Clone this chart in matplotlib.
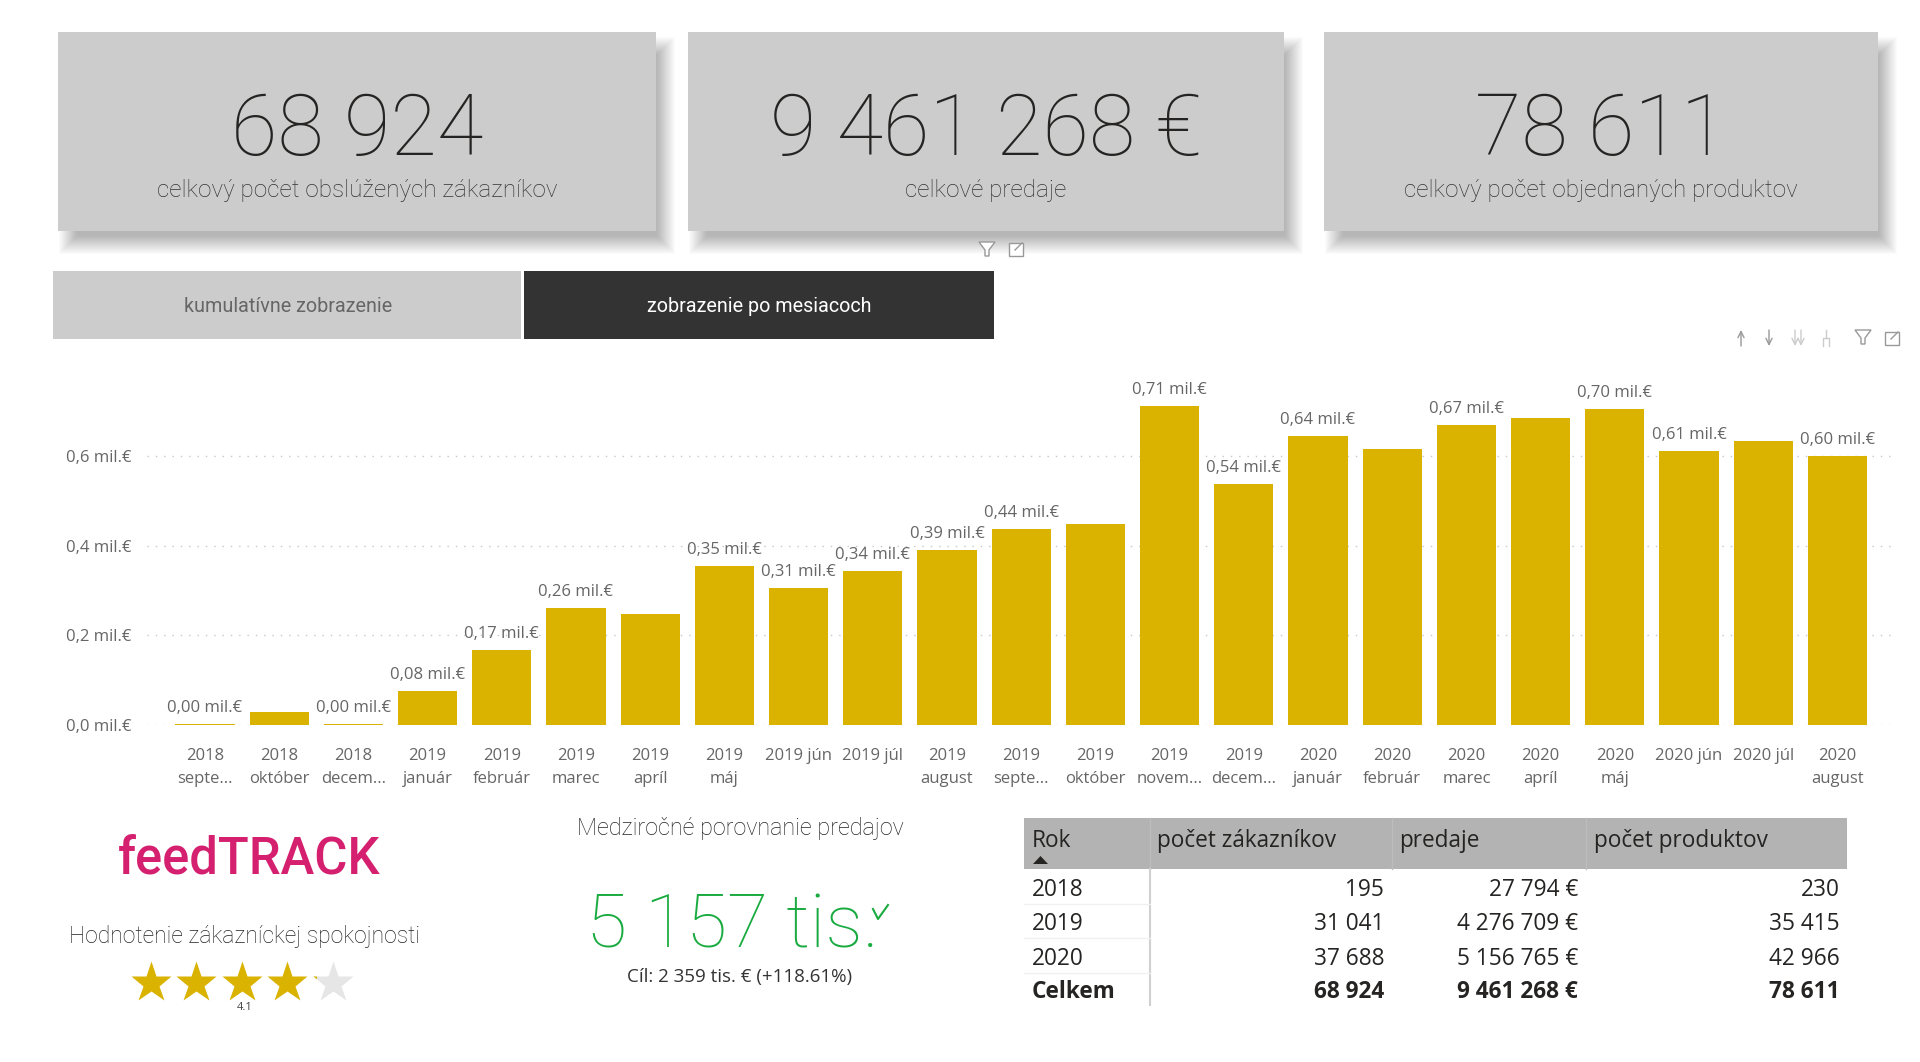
import matplotlib
matplotlib.use("Agg")
import matplotlib.pyplot as plt
from matplotlib.patches import Rectangle, Polygon

plt.rcParams['font.family'] = ['Open Sans', 'DejaVu Sans']

# chart data
months = ['2018\nsepte...', '2018\noktóber', '2018\ndecem...', '2019\njanuár', '2019\nfebruár',
          '2019\nmarec', '2019\napríl', '2019\nmáj', '2019 jún', '2019 júl', '2019\naugust',
          '2019\nsepte...', '2019\noktóber', '2019\nnovem...', '2019\ndecem...', '2020\njanuár',
          '2020\nfebruár', '2020\nmarec', '2020\napríl', '2020\nmáj', '2020 jún', '2020 júl',
          '2020\naugust']
sales = [0.003, 0.03, 0.003, 0.077, 0.167, 0.262, 0.247, 0.356, 0.306, 0.344, 0.391, 0.437, 0.448,
         0.711, 0.539, 0.645, 0.615, 0.67, 0.686, 0.705, 0.612, 0.634, 0.601]
sales_labels = ['0,00', None, '0,00', '0,08', '0,17', '0,26', None, '0,35', '0,31', '0,34', '0,39',
                '0,44', None, '0,71', '0,54', '0,64', None, '0,67', None, '0,70', '0,61', None, '0,60']
y_ticks = [0.0, 0.2, 0.4, 0.6]
y_tick_labels = ['0,0 mil.€', '0,2 mil.€', '0,4 mil.€', '0,6 mil.€']

# cards
card_values = ['68 924', '9 461 268 €', '78 611']
card_names = ['celkový počet obslúžených zákazníkov', 'celkové predaje', 'celkový počet objednaných produktov']

# table
table_header = ['Rok', 'počet zákazníkov', 'predaje', 'počet produktov']
table_years = ['2018', '2019', '2020', 'Celkem']
table_customers = ['195', '31 041', '37 688', '68 924']
table_sales = ['27 794 €', '4 276 709 €', '5 156 765 €', '9 461 268 €']
table_products = ['230', '35 415', '42 966', '78 611']

rating = 4.1

GOLD = '#D9B300'
GREY_TEXT = '#666666'
DARK_TEXT = '#252423'
LIGHT = 'Roboto'

W, H = 1920, 1062
fig = plt.figure(figsize=(W / 100, H / 100), dpi=100, facecolor='white')

# overlay in pixel coordinates for everything around the chart
bg = fig.add_axes([0, 0, 1, 1])
bg.set_xlim(0, W)
bg.set_ylim(H, 0)
bg.axis('off')


def card(x0, x1, value, name):
    y0, y1 = 32, 231
    # soft shadow
    for r in range(9, -10, -1):
        bg.add_patch(Rectangle((x0 + 10 - r, y0 + 14 - r), x1 - x0 + 2 * r, y1 - y0 + 2 * r,
                               fc='black', ec='none', alpha=0.017, zorder=1))
    bg.add_patch(Rectangle((x0, y0), x1 - x0, y1 - y0, fc='#CCCCCC', ec='none', zorder=2))
    xc = (x0 + x1) / 2
    bg.text(xc, 155, value, ha='center', va='baseline', fontsize=61, family=LIGHT, weight='light', color=DARK_TEXT, zorder=3)
    bg.text(xc, 191, name, ha='center', va='center', fontsize=17.5, color='#333333', family=LIGHT, weight='light', zorder=3)


card(58, 656, card_values[0], card_names[0])
card(688, 1284, card_values[1], card_names[1])
card(1324, 1878, card_values[2], card_names[2])

# toggle buttons
bg.add_patch(Rectangle((53, 271), 468, 68, fc='#CCCCCC', ec='none'))
bg.add_patch(Rectangle((524, 271), 470, 68, fc='#333333', ec='none'))
bg.text(288, 307, 'kumulatívne zobrazenie', ha='center', va='center', fontsize=14.2, color=GREY_TEXT, family=LIGHT)
bg.text(759, 307, 'zobrazenie po mesiacoch', ha='center', va='center', fontsize=14.2, color='white', family=LIGHT)


def funnel(x, y):
    bg.add_patch(Polygon([(x - 8, y - 7), (x + 8, y - 7), (x + 2, y + 1), (x + 2, y + 7), (x - 2, y + 7), (x - 2, y + 1)],
                         fc='white', ec='#999999', lw=1, zorder=4))


def focus(x, y):
    bg.add_patch(Rectangle((x - 7, y - 6), 14, 13, fc='white', ec='#999999', lw=1, zorder=4))
    bg.plot([x - 1, x + 6], [y + 1, y - 6], color='#999999', lw=1, zorder=5)


def arrow(x, y, direction, color='#999999'):
    bg.annotate('', xy=(x, y + direction * 8), xytext=(x, y - direction * 8),
                arrowprops=dict(arrowstyle='->', color=color, lw=1, mutation_scale=11, shrinkA=0, shrinkB=0))


funnel(987, 249)
focus(1016, 249)
arrow(1741, 338, -1)
arrow(1769, 338, 1)
arrow(1795, 338, 1, '#CCCCCC')
arrow(1801, 338, 1, '#CCCCCC')
bg.plot([1823, 1823, 1829, 1829], [346, 338, 338, 346], color='#CCCCCC', lw=1)
bg.plot([1826, 1826], [330, 338], color='#CCCCCC', lw=1)
funnel(1863, 337)
focus(1892, 338)

# bar chart
left, right, bottom, top = 147, 1893, 725, 380
ax = fig.add_axes([left / W, 1 - bottom / H, (right - left) / W, (bottom - top) / H])
ax.patch.set_alpha(0)
x = list(range(len(months)))
ax.bar(x, sales, width=0.8, color=GOLD, zorder=2)
ax.set_xlim((left - 205) / 74.2, (right - 205) / 74.2)
ax.set_ylim(0, (bottom - top) / 448)
ax.set_xticks(x)
ax.set_xticklabels(months, fontsize=12, color=GREY_TEXT, linespacing=1.55)
ax.set_yticks(y_ticks)
ax.set_yticklabels(y_tick_labels, fontsize=12, color=GREY_TEXT)
ax.tick_params(axis='both', length=0)
ax.tick_params(axis='x', pad=16.5)
ax.tick_params(axis='y', pad=11)
ax.grid(axis='y', color='#C8C8C8', linestyle=(0, (1, 5)), lw=1, zorder=1)
ax.set_axisbelow(True)
for s in ax.spines.values():
    s.set_visible(False)
for i, lab in enumerate(sales_labels):
    if lab:
        ax.annotate(lab + ' mil.€', (i, sales[i]), xytext=(0, 11.5), textcoords='offset points',
                    ha='center', va='center', fontsize=12, color=GREY_TEXT)

# logo and rating
bg.text(249, 873, 'feedTRACK', ha='center', va='baseline', fontsize=36.5, color='#D5206F', weight='medium', family='Roboto')
bg.text(245, 937, 'Hodnotenie zákazníckej spokojnosti', ha='center', va='center', fontsize=16.5, color='#222222',
        family=LIGHT, weight='light')
star_x = [150.5, 196, 241.7, 287, 333]
for i, sx in enumerate(star_x):
    if i + 1 <= rating:
        bg.plot([sx], [983], marker='*', ms=31, mfc=GOLD, mec='none', zorder=3)
    else:
        bg.plot([sx], [983], marker='*', ms=31, mfc='#E6E6E6', mec='none', zorder=3)
        part, = bg.plot([sx], [983], marker='*', ms=31, mfc=GOLD, mec='none', zorder=4)
        clip = Rectangle((sx - 21, 950), 42 * (rating - i), 60, transform=bg.transData)
        part.set_clip_path(clip)
bg.text(245, 1008, f'{rating}', ha='center', va='center', fontsize=8, color='#444444')

# KPI
bg.text(740, 829, 'Medziročné porovnanie predajov', ha='center', va='center', fontsize=16.8, color='#222222',
        family=LIGHT, weight='light')
bg.text(732, 947, '5 157 tis.', ha='center', va='baseline', fontsize=54, color='#1AAB40', family=LIGHT, weight='light')
bg.plot([873, 878, 888], [909, 919, 905], color='#1AAB40', lw=1.5)
bg.text(740, 977, 'Cíl: 2 359 tis. € (+118.61%)', ha='center', va='center', fontsize=13.5, color='#333333')

# table
col_left = [1032, 1157, 1399, 1594]
col_right = [None, 1384, 1578, 1840]
row_y = [890, 924, 959, 992]
bg.add_patch(Rectangle((1024, 818), 823, 51, fc='#B3B3B3', ec='none'))
for sep in [1150, 1392, 1586]:
    bg.plot([sep, sep], [818, 869], color='#BDBDBD', lw=1)
bg.plot([1150, 1150], [869, 1005], color='#D0D0D0', lw=1.5)
for sep in [904, 938, 973]:
    bg.plot([1024, 1150], [sep, sep], color='#F0F0F0', lw=1)
for xl, txt in zip(col_left, table_header):
    bg.text(xl, 841, txt, ha='left', va='center', fontsize=16.3, color='#252423')
bg.add_patch(Polygon([(1033, 864), (1048, 864), (1040.5, 856)], fc='#252423', ec='none'))
for r, y in enumerate(row_y):
    w = 'bold' if r == 3 else 'normal'
    bg.text(col_left[0], y, table_years[r], ha='left', va='center', fontsize=16.3, color='#252423', weight=w)
    bg.text(col_right[1], y, table_customers[r], ha='right', va='center', fontsize=16.3, color='#252423', weight=w)
    bg.text(col_right[2], y, table_sales[r], ha='right', va='center', fontsize=16.3, color='#252423', weight=w)
    bg.text(col_right[3], y, table_products[r], ha='right', va='center', fontsize=16.3, color='#252423', weight=w)

bg.set_xlim(0, W)
bg.set_ylim(H, 0)
fig.savefig('out.png', dpi=100, facecolor='white')
